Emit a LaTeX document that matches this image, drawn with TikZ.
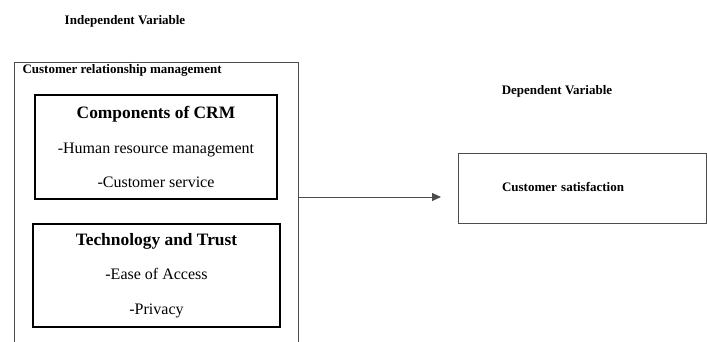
\documentclass[tikz,border=0pt]{standalone}
\usepackage{fontspec}
\setmainfont{Liberation Serif}
\usetikzlibrary{arrows.meta}

\begin{document}
\begin{tikzpicture}[x=1pt,y=-1pt,
    thinbox/.style={draw=black!70, line width=0.8pt},
    thickbox/.style={draw, line width=2.4pt, align=center,
      font=\fontsize{16}{34.5}\selectfont},
    head/.style={font=\bfseries\fontsize{13}{15}\selectfont}]

  \useasboundingbox (0,0) rectangle (707,341);
  \clip (0,0) rectangle (707,341);

  % headings
  \node[head] (indep) at (125,21) {Independent Variable};
  \node[head] (dep)   at (557,91) {Dependent Variable};

  % independent side
  \node[thinbox, minimum width=284, minimum height=292] (crm) at (156,208) {};
  \node[head, anchor=west] (crmlabel) at (19,70) {Customer relationship management};

  \begin{scope}[every node/.style={thickbox}]
    \node[minimum width=242, minimum height=104] (comp) at (156,147)
      {\textbf{\fontsize{17.4}{34.5}\selectfont Components of CRM}\\
       -Human resource management\\-Customer service};
    \node[minimum width=247, minimum height=103] (tech) at (156.5,275.5)
      {\textbf{\fontsize{17.4}{34.5}\selectfont Technology and Trust}\\
       -Ease of Access\\-Privacy};
  \end{scope}

  % dependent side
  \node[thinbox, head, minimum width=248, minimum height=70, text width=160,
        inner xsep=44, align=left] (sat) at (582,188)
    {\raisebox{3pt}{Customer satisfaction}};

  \coordinate (tip) at (441,197);
  \draw[black!70, line width=0.8pt, -{Triangle[length=9pt,width=8pt]}]
    (crm.east |- tip) -- (tip);

\end{tikzpicture}
\end{document}
